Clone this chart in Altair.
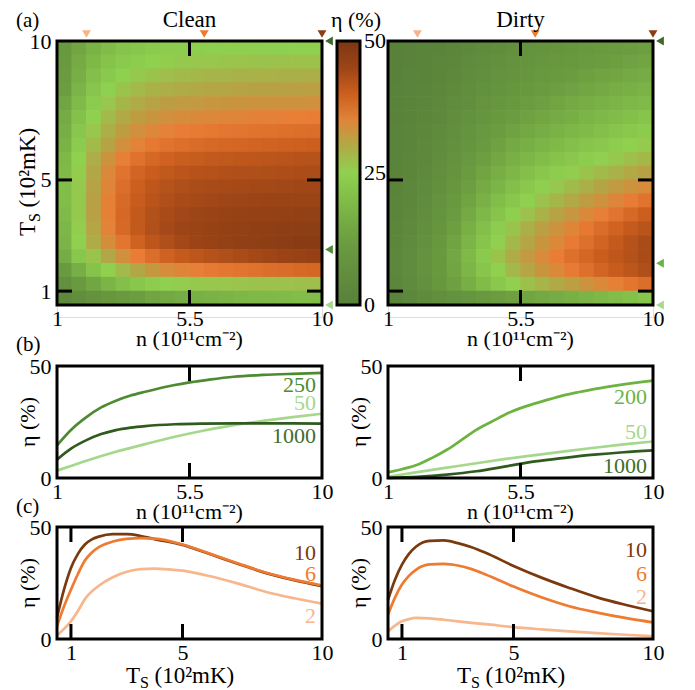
import altair as alt
import pandas as pd

FONT = "Liberation Serif"

# ---------------- heat maps (cell centres and eta values, %) ----------------
n_centers = [1.25, 1.75, 2.25, 2.75, 3.25, 3.75, 4.25, 4.75, 5.25, 5.75,
             6.25, 6.75, 7.25, 7.75, 8.25, 8.75, 9.25, 9.75]
t_centers = [9.75, 9.25, 8.75, 8.25, 7.75, 7.25, 6.75, 6.25, 5.75, 5.25,
             4.75, 4.25, 3.75, 3.25, 2.75, 2.25, 1.75, 1.25, 0.75]
cell_half = 0.25

clean_eta = [
    [10.5, 14.5, 17.5, 19.8, 21.5, 22.5, 23.3, 23.8, 24.1, 24.3, 24.4, 24.5, 24.5, 24.6, 24.7, 24.8, 24.9, 25.0],
    [11.0, 15.5, 19.0, 21.5, 23.0, 24.0, 25.0, 25.5, 26.0, 26.3, 26.5, 26.6, 26.7, 26.8, 26.9, 27.0, 27.0, 27.0],
    [11.5, 16.5, 20.5, 23.0, 24.8, 26.0, 26.8, 27.5, 28.0, 28.3, 28.6, 28.8, 29.0, 29.1, 29.2, 29.3, 29.4, 29.5],
    [12.5, 18.0, 22.0, 24.8, 26.8, 28.0, 29.0, 29.6, 30.0, 30.3, 30.6, 30.8, 31.0, 31.1, 31.2, 31.3, 31.4, 31.5],
    [14.0, 19.5, 23.5, 26.5, 28.5, 30.0, 31.0, 31.6, 32.0, 32.3, 32.6, 32.8, 33.0, 33.1, 33.2, 33.3, 33.4, 33.5],
    [15.5, 21.0, 25.0, 28.0, 30.2, 31.8, 32.8, 33.5, 34.0, 34.3, 34.6, 34.9, 35.1, 35.3, 35.5, 35.7, 35.9, 36.0],
    [16.5, 22.3, 26.5, 29.5, 31.8, 33.5, 34.7, 35.4, 36.0, 36.3, 36.6, 36.9, 37.1, 37.3, 37.5, 37.7, 37.9, 38.0],
    [17.5, 23.5, 28.0, 31.0, 33.5, 35.2, 36.5, 37.3, 37.9, 38.3, 38.6, 38.9, 39.1, 39.3, 39.5, 39.7, 39.9, 40.0],
    [19.0, 25.0, 29.5, 33.0, 35.8, 37.5, 38.8, 39.6, 40.2, 40.6, 40.9, 41.2, 41.4, 41.6, 41.8, 42.0, 42.2, 42.3],
    [19.5, 25.5, 30.5, 34.5, 37.3, 39.2, 40.4, 41.2, 41.8, 42.2, 42.5, 42.7, 42.9, 43.0, 43.1, 43.2, 43.3, 43.3],
    [20.0, 26.0, 31.0, 35.0, 38.0, 40.0, 41.4, 42.3, 43.0, 43.4, 43.7, 43.9, 44.1, 44.2, 44.3, 44.4, 44.5, 44.5],
    [20.0, 26.0, 31.2, 35.5, 38.5, 40.6, 42.0, 43.0, 43.7, 44.1, 44.4, 44.7, 44.9, 45.1, 45.2, 45.3, 45.4, 45.5],
    [19.5, 26.0, 31.3, 35.6, 38.8, 41.0, 42.6, 43.7, 44.4, 44.9, 45.3, 45.6, 45.9, 46.1, 46.2, 46.3, 46.4, 46.5],
    [18.5, 25.5, 30.8, 35.2, 38.6, 41.0, 42.8, 44.0, 44.9, 45.4, 45.8, 46.2, 46.5, 46.8, 47.0, 47.2, 47.4, 47.5],
    [18.0, 25.0, 29.8, 33.8, 37.0, 39.6, 41.6, 43.0, 44.2, 45.0, 45.6, 46.2, 46.7, 47.1, 47.4, 47.7, 47.9, 48.0],
    [16.0, 22.5, 26.8, 30.5, 33.5, 36.0, 38.0, 39.6, 40.8, 41.7, 42.4, 43.0, 43.6, 44.2, 44.7, 45.2, 45.6, 46.0],
    [11.0, 16.5, 21.5, 25.0, 28.0, 30.5, 32.5, 34.0, 35.0, 35.8, 36.4, 36.8, 37.2, 37.6, 38.0, 38.3, 38.6, 39.0],
    [7.0, 11.0, 14.5, 18.0, 20.5, 22.5, 24.0, 25.0, 25.6, 26.0, 26.3, 26.5, 26.7, 26.9, 27.0, 27.1, 27.2, 27.3],
    [3.5, 5.5, 7.5, 9.5, 11.0, 12.5, 14.0, 15.0, 16.0, 16.8, 17.4, 18.0, 18.5, 19.0, 19.4, 19.7, 20.0, 20.2],
]

dirty_eta = [
    [0.3, 0.8, 1.3, 1.9, 2.8, 3.8, 4.8, 5.8, 6.7, 7.5, 8.2, 8.9, 9.6, 10.3, 11.0, 11.6, 12.1, 12.6],
    [0.5, 1.0, 1.6, 2.4, 3.4, 4.5, 5.6, 6.7, 7.7, 8.5, 9.3, 10.0, 10.7, 11.4, 12.1, 12.8, 13.5, 14.2],
    [0.6, 1.2, 1.9, 2.8, 3.9, 5.1, 6.3, 7.5, 8.6, 9.6, 10.5, 11.3, 12.1, 12.9, 13.7, 14.5, 15.3, 16.0],
    [0.8, 1.4, 2.2, 3.2, 4.4, 5.8, 7.1, 8.4, 9.6, 10.7, 11.7, 12.6, 13.5, 14.4, 15.3, 16.1, 16.9, 17.7],
    [0.9, 1.6, 2.5, 3.6, 5.0, 6.5, 8.0, 9.5, 10.8, 12.0, 13.1, 14.1, 15.1, 16.1, 17.1, 18.0, 18.9, 19.7],
    [1.0, 1.8, 2.8, 4.0, 5.6, 7.3, 9.0, 10.6, 12.0, 13.3, 14.5, 15.6, 16.7, 17.8, 18.8, 19.8, 20.8, 21.7],
    [1.2, 2.0, 3.2, 4.5, 6.3, 8.2, 10.1, 11.9, 13.5, 14.9, 16.2, 17.4, 18.6, 19.7, 20.7, 21.7, 22.7, 23.6],
    [1.3, 2.2, 3.5, 5.0, 7.0, 9.2, 11.3, 13.3, 15.1, 16.7, 18.1, 19.4, 20.7, 21.8, 22.9, 23.9, 24.9, 25.8],
    [1.4, 2.5, 3.9, 5.6, 7.8, 10.2, 12.6, 14.8, 16.8, 18.6, 20.1, 21.5, 22.9, 24.1, 25.2, 26.3, 27.3, 28.3],
    [1.6, 2.8, 4.3, 6.2, 8.7, 11.4, 14.1, 16.5, 18.7, 20.7, 22.4, 24.0, 25.5, 26.8, 28.0, 29.1, 30.2, 31.2],
    [1.8, 3.1, 4.7, 6.9, 9.6, 12.6, 15.5, 18.2, 20.6, 22.7, 24.6, 26.3, 27.9, 29.3, 30.7, 32.0, 33.1, 34.2],
    [2.0, 3.4, 5.2, 7.6, 10.6, 13.9, 17.1, 20.0, 22.6, 24.9, 26.9, 28.7, 30.4, 31.9, 33.4, 34.8, 36.1, 37.3],
    [2.2, 3.8, 5.7, 8.4, 11.7, 15.3, 18.8, 21.8, 24.6, 27.1, 29.2, 31.0, 32.7, 34.3, 35.8, 37.2, 38.6, 40.0],
    [2.5, 4.2, 6.3, 9.2, 12.8, 16.8, 20.5, 23.8, 26.8, 29.4, 31.5, 33.3, 35.0, 36.6, 38.1, 39.5, 40.8, 42.0],
    [2.8, 4.6, 7.0, 10.0, 13.8, 18.0, 21.8, 25.2, 28.2, 30.8, 32.8, 34.6, 36.3, 37.8, 39.3, 40.8, 42.2, 43.5],
    [3.0, 5.0, 7.5, 10.8, 14.8, 19.3, 23.3, 26.8, 29.8, 32.3, 34.2, 36.0, 37.7, 39.0, 40.3, 41.4, 42.4, 43.5],
    [3.0, 5.0, 7.5, 10.5, 14.2, 18.3, 22.0, 25.3, 28.2, 30.8, 32.8, 34.6, 36.3, 37.8, 39.2, 40.5, 41.7, 43.0],
    [2.5, 4.5, 7.0, 9.8, 13.0, 16.5, 19.8, 22.8, 25.2, 27.2, 28.8, 30.3, 31.7, 33.1, 34.5, 35.8, 37.0, 38.0],
    [1.5, 3.0, 4.5, 6.0, 7.5, 9.0, 10.5, 12.0, 13.0, 14.0, 15.0, 16.0, 17.0, 18.0, 19.0, 20.0, 21.0, 22.0],
]

eta_stops = [0, 12, 25, 31, 36, 40, 45, 50]
eta_colors = ["#58803a", "#6b9c40", "#8fd14f", "#b5a345", "#ea7d35", "#cc5f1e", "#9c4416", "#7c3712"]
eta_ticks = [0, 25, 50]

# markers (triangles)
n_marks = [2, 6, 10]
n_mark_colors = ["#f6b48a", "#ee7b30", "#8a3f12"]
clean_t_marks = [10, 2.5, 0.5]
dirty_t_marks = [10, 2, 0.5]
clean_t_colors = ["#3d6a28", "#4f8c35", "#a7d98f"]
dirty_t_colors = ["#3d6a28", "#6db341", "#a7d98f"]

# ---------------- panel (b): eta vs n ----------------
b_clean_250_n = [1, 1.5, 2, 2.5, 3, 3.5, 4, 5, 5.5, 6, 7, 8, 9, 10]
b_clean_250_eta = [14.6, 21.8, 27.2, 31.5, 34.5, 36.8, 38.5, 41.5, 42.7, 43.6, 45.2, 46.0, 46.5, 46.9]
b_clean_1000_n = [1, 1.5, 2, 2.5, 3, 3.5, 4, 5, 6, 7, 8, 9, 10]
b_clean_1000_eta = [8.2, 13.3, 16.9, 19.6, 21.4, 22.5, 23.2, 24.0, 24.3, 24.4, 24.4, 24.4, 24.3]
b_clean_50_n = [1, 1.5, 2, 3, 4, 5, 6, 7, 8, 9, 10]
b_clean_50_eta = [3.3, 5.5, 7.7, 11.7, 15.1, 18.4, 21.2, 23.6, 25.5, 27.2, 28.7]

b_dirty_200_n = [1, 1.5, 2, 2.5, 3, 3.5, 4, 4.5, 5, 5.5, 6, 6.5, 7, 7.5, 8, 8.5, 9, 9.5, 10]
b_dirty_200_eta = [2.5, 4.0, 5.9, 9.0, 12.6, 17.0, 21.5, 25.0, 28.5, 31.2, 33.3, 35.2, 37.0, 38.4, 39.7, 40.8, 41.8, 42.7, 43.5]
b_dirty_50_n = [1, 2, 3, 4, 5, 6, 7, 8, 9, 10]
b_dirty_50_eta = [0.5, 2.6, 4.6, 6.6, 8.5, 10.2, 11.9, 13.5, 15.0, 16.3]
b_dirty_1000_n = [1, 2, 3, 4, 5, 6, 7, 8, 9, 10]
b_dirty_1000_eta = [0.0, 0.5, 1.5, 3.0, 5.2, 7.4, 9.0, 10.4, 11.5, 12.3]

# ---------------- panel (c): eta vs T_S ----------------
c_clean_t = [0.5, 0.75, 1, 1.25, 1.5, 1.75, 2, 2.5, 3, 3.5, 4, 5, 6, 7, 8, 9, 10]
c_clean_10 = [9.5, 22.0, 31.7, 38.0, 42.2, 44.5, 45.7, 46.8, 46.8, 46.0, 44.6, 42.0, 37.8, 33.5, 29.4, 26.3, 23.6]
c_clean_6 = [5.7, 14.5, 22.0, 29.0, 35.0, 38.6, 41.0, 43.5, 44.7, 45.0, 44.8, 42.2, 38.0, 33.7, 29.6, 26.5, 23.9]
c_clean_2_t = [0.5, 0.75, 1, 1.25, 1.5, 2, 2.5, 3, 3.5, 4, 4.5, 5, 6, 7, 8, 9, 10]
c_clean_2 = [1.6, 4.5, 7.9, 12.5, 17.8, 23.8, 27.6, 30.0, 31.2, 31.4, 31.1, 30.5, 28.0, 24.7, 21.0, 18.2, 15.8]

c_dirty_t = [0.5, 0.75, 1, 1.25, 1.5, 2, 2.5, 3, 3.5, 4, 5, 6, 7, 8, 9, 10]
c_dirty_10 = [17.5, 26.5, 33.2, 38.0, 41.2, 43.8, 44.0, 42.8, 41.0, 38.5, 32.6, 27.4, 22.8, 18.6, 15.3, 12.4]
c_dirty_6 = [10.9, 18.5, 24.3, 28.2, 30.9, 33.3, 33.5, 32.8, 31.2, 28.8, 23.4, 18.6, 14.6, 11.8, 9.4, 7.4]
c_dirty_2 = [3.4, 6.0, 7.9, 8.9, 9.4, 9.2, 8.6, 7.9, 7.2, 6.6, 5.3, 4.3, 3.4, 2.6, 1.9, 1.2]

# colours of curves
G_DARK, G_MID, G_BRIGHT, G_LIGHT = "#2f5b1f", "#4d8a32", "#6cb33f", "#a5d88c"
G_LABEL_DARK = "#3e6e2c"
O_DARK, O_MID, O_LIGHT = "#7a3a0e", "#ee7b30", "#f7b68c"

# ---------------- helpers ----------------
W, H = 265, 264          # heat-map plot area
H_CELL = 276             # heat-map layout cell (H + extra gap to the (b) row)
WS, HS = 265, 112        # line panels
CB_X, CB_W = 280, 23     # colour bar placement inside the clean panel
cell_overlap = 0.012     # tiny overlap of heat-map cells to hide anti-aliasing seams
one = pd.DataFrame({"a": [0]})

xs_n = alt.Scale(domain=[1, 10], nice=False, zero=False)
ys_t = alt.Scale(domain=[0.5, 10], nice=False, zero=False, range=[H, 0])
xs_t = alt.Scale(domain=[0.5, 10], nice=False, zero=False)
ys_eta = alt.Scale(domain=[0, 50], nice=False, zero=False)
cscale = alt.Scale(domain=eta_stops, range=eta_colors, interpolate="rgb", clamp=True)


def xaxis(vals, pad=20):
    return alt.Axis(values=vals, format=".1~f", title=None, grid=False, domain=False, ticks=False,
                    labelFont=FONT, labelFontSize=22, labelColor="black", labelPadding=pad,
                    labelBaseline="alphabetic", labelFlush=False, labelOverlap=False)


def yaxis(vals):
    return alt.Axis(values=vals, format=".1~f", title=None, grid=False, domain=False, ticks=False,
                    labelFont=FONT, labelFontSize=22, labelColor="black", labelPadding=6,
                    labelFlush=False, labelOverlap=False)


NO_AXIS = alt.Axis(labels=False, ticks=False, domain=False, grid=False, title=None)


def txt(text, x, y, size=22, align="left", baseline="alphabetic", angle=0, color="black"):
    return alt.Chart(one).mark_text(text=text, font=FONT, fontSize=size, align=align,
                                    baseline=baseline, angle=angle, color=color).encode(
        x=alt.value(x), y=alt.value(y))


def frame(w, h):
    return alt.Chart(one).mark_rect(fillOpacity=0, stroke="black", strokeWidth=3).encode(
        x=alt.value(0), x2=alt.value(w), y=alt.value(0), y2=alt.value(h))


def xticks(vals, scale, ax, h, L=15):
    d = pd.DataFrame({"v": vals})
    top = alt.Chart(d).mark_rule(color="black", strokeWidth=3).encode(
        x=alt.X("v:Q", scale=scale, axis=ax), y=alt.value(0), y2=alt.value(L))
    bot = alt.Chart(d).mark_rule(color="black", strokeWidth=3).encode(
        x=alt.X("v:Q", scale=scale, axis=ax), y=alt.value(h - L), y2=alt.value(h))
    return alt.layer(top, bot)


def yticks(vals, scale, ax, w, L=15):
    d = pd.DataFrame({"v": vals})
    left = alt.Chart(d).mark_rule(color="black", strokeWidth=3).encode(
        y=alt.Y("v:Q", scale=scale, axis=ax), x=alt.value(0), x2=alt.value(L))
    right = alt.Chart(d).mark_rule(color="black", strokeWidth=3).encode(
        y=alt.Y("v:Q", scale=scale, axis=ax), x=alt.value(w - L), x2=alt.value(w))
    return alt.layer(left, right)


def ts_vertical(xc, yc, size=23):
    y0 = yc + 54
    return alt.layer(
        txt("T", xc, y0, size, baseline="middle", angle=270),
        txt("S", xc + 7, y0 - 14, 16, baseline="middle", angle=270),
        txt("(10²mK)", xc, y0 - 14 - 9 - 5.5, size, baseline="middle", angle=270),
    )


def ts_horizontal(x0, yb, size=23):
    return alt.layer(
        txt("T", x0, yb, size),
        txt("S", x0 + 14, yb + 5, 16),
        txt("(10²mK)", x0 + 14 + 9 + 5.5, yb, size),
    )


def grid_df(grid):
    rows = []
    hw = cell_half + cell_overlap
    for i, t in enumerate(t_centers):
        for j, n in enumerate(n_centers):
            rows.append({"n0": n - hw, "n1": n + hw, "t0": t - hw, "t1": t + hw,
                         "eta": grid[i][j]})
    return pd.DataFrame(rows)


def heatmap(grid, t_marks, t_colors, show_y, legend):
    df = grid_df(grid)
    xax = xaxis([1, 5.5, 10], pad=20 - (H_CELL - H))
    yax = yaxis([1, 5, 10]) if show_y else NO_AXIS
    rect = alt.Chart(df).mark_rect().encode(
        x=alt.X("n0:Q", scale=xs_n, axis=xax),
        x2="n1:Q",
        y=alt.Y("t0:Q", scale=ys_t, axis=yax),
        y2="t1:Q",
        color=alt.Color("eta:Q", scale=cscale, legend=legend),
    )
    top_marks = alt.Chart(pd.DataFrame({"n": n_marks, "c": n_mark_colors})).mark_point(
        shape="triangle-down", filled=True, size=80, opacity=1).encode(
        x=alt.X("n:Q", scale=xs_n, axis=xax), y=alt.value(-7),
        color=alt.Color("c:N", scale=None))
    right_marks = alt.Chart(pd.DataFrame({"t": t_marks, "c": t_colors})).mark_point(
        shape="triangle-left", filled=True, size=80, opacity=1).encode(
        y=alt.Y("t:Q", scale=ys_t, axis=yax), x=alt.value(W + 7),
        color=alt.Color("c:N", scale=None))
    return [rect, frame(W, H), xticks([5.5], xs_n, xax, H), yticks([1, 5], ys_t, yax, W),
            top_marks, right_marks, txt("n (10¹¹cm⁻²)", W / 2, H + 41, 22, align="center")]


cbar_legend = alt.Legend(type="gradient", orient="none", legendX=CB_X, legendY=0,
                         direction="vertical", title=None,
                         gradientLength=H, gradientThickness=CB_W, values=eta_ticks,
                         labelExpr="''", labelOpacity=0,
                         gradientStrokeColor="black", gradientStrokeWidth=3, padding=0)

# colour-bar tick labels, placed along the bar from the eta range
cbar_labels = [
    txt(str(v), CB_X + CB_W + 4, H * (1 - (v - eta_stops[0]) / (eta_stops[-1] - eta_stops[0])),
        22, baseline="middle")
    for v in eta_ticks
]

TOP = -14
hm_clean = alt.layer(
    *heatmap(clean_eta, clean_t_marks, clean_t_colors, True, cbar_legend),
    *cbar_labels,
    txt("(a)", -41, TOP, 21),
    txt("Clean", W / 2, TOP, 23, align="center"),
    txt("η (%)", CB_X + 19, TOP, 22, align="center"),
    ts_vertical(-29, 141),
).properties(width=W, height=H_CELL)

hm_dirty = alt.layer(
    *heatmap(dirty_eta, dirty_t_marks, dirty_t_colors, False, None),
    txt("Dirty", W / 2, TOP, 23, align="center"),
).properties(width=W, height=H_CELL)


def curve(xv, yv, color, xscale, xax):
    d = pd.DataFrame({"x": xv, "y": yv})
    return alt.Chart(d).mark_line(color=color, strokeWidth=2.7, interpolate="monotone").encode(
        x=alt.X("x:Q", scale=xscale, axis=xax),
        y=alt.Y("y:Q", scale=ys_eta, axis=yaxis([0, 50])))


def eta_title():
    return txt("η (%)", -29, HS / 2, 22, align="center", baseline="middle", angle=270)


ax_n = xaxis([1, 5.5, 10])
ax_t = xaxis([1, 5, 10])

b_clean = alt.layer(
    curve(b_clean_50_n, b_clean_50_eta, G_LIGHT, xs_n, ax_n),
    curve(b_clean_1000_n, b_clean_1000_eta, G_DARK, xs_n, ax_n),
    curve(b_clean_250_n, b_clean_250_eta, G_MID, xs_n, ax_n),
    frame(WS, HS), xticks([5.5], xs_n, ax_n, HS),
    txt("250", 259, 19, 22, align="right", baseline="middle", color=G_MID),
    txt("50", 259, 37, 22, align="right", baseline="middle", color=G_LIGHT),
    txt("1000", 259, 70, 22, align="right", baseline="middle", color=G_LABEL_DARK),
    txt("(b)", -41, -15, 21),
    txt("n (10¹¹cm⁻²)", WS / 2, HS + 41, 22, align="center"),
    eta_title(),
).properties(width=WS, height=HS)

b_dirty = alt.layer(
    curve(b_dirty_50_n, b_dirty_50_eta, G_LIGHT, xs_n, ax_n),
    curve(b_dirty_1000_n, b_dirty_1000_eta, G_DARK, xs_n, ax_n),
    curve(b_dirty_200_n, b_dirty_200_eta, G_BRIGHT, xs_n, ax_n),
    frame(WS, HS), xticks([5.5], xs_n, ax_n, HS),
    txt("200", 259, 31, 22, align="right", baseline="middle", color=G_BRIGHT),
    txt("50", 259, 66, 22, align="right", baseline="middle", color=G_LIGHT),
    txt("1000", 259, 100, 22, align="right", baseline="middle", color=G_LABEL_DARK),
    txt("n (10¹¹cm⁻²)", WS / 2, HS + 41, 22, align="center"),
    eta_title(),
).properties(width=WS, height=HS)

c_clean = alt.layer(
    curve(c_clean_2_t, c_clean_2, O_LIGHT, xs_t, ax_t),
    curve(c_clean_t, c_clean_10, O_DARK, xs_t, ax_t),
    curve(c_clean_t, c_clean_6, O_MID, xs_t, ax_t),
    frame(WS, HS), xticks([1, 5], xs_t, ax_t, HS),
    txt("10", 259, 26, 22, align="right", baseline="middle", color=O_DARK),
    txt("6", 259, 47, 22, align="right", baseline="middle", color=O_MID),
    txt("2", 259, 89, 22, align="right", baseline="middle", color=O_LIGHT),
    txt("(c)", -41, -14, 21),
    ts_horizontal(69, HS + 44),
    eta_title(),
).properties(width=WS, height=HS)

c_dirty = alt.layer(
    curve(c_dirty_t, c_dirty_2, O_LIGHT, xs_t, ax_t),
    curve(c_dirty_t, c_dirty_6, O_MID, xs_t, ax_t),
    curve(c_dirty_t, c_dirty_10, O_DARK, xs_t, ax_t),
    frame(WS, HS), xticks([1, 5], xs_t, ax_t, HS),
    txt("10", 259, 23, 22, align="right", baseline="middle", color=O_DARK),
    txt("6", 259, 47, 22, align="right", baseline="middle", color=O_MID),
    txt("2", 259, 70, 22, align="right", baseline="middle", color=O_LIGHT),
    ts_horizontal(69, HS + 44),
    eta_title(),
).properties(width=WS, height=HS)

chart = alt.concat(
    hm_clean, hm_dirty, b_clean, b_dirty, c_clean, c_dirty,
    columns=2, spacing={"row": 49, "column": 66}, bounds="flush",
).resolve_scale(color="independent").properties(
    padding={"left": 7, "top": 0, "right": 0, "bottom": 0},
).configure_view(strokeOpacity=0).configure(background="white")

chart.save("out.html", embed_options={"renderer": "svg", "actions": False})
